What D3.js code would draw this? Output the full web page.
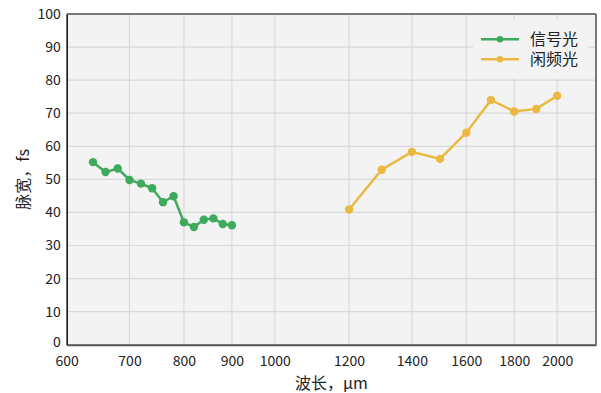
<!DOCTYPE html>
<html><head><meta charset="utf-8">
<script src="https://cdn.jsdelivr.net/npm/d3@7"></script>
<style>
body{margin:0;background:#fff;}
svg text{font-family:"Noto Sans CJK SC","Noto Sans",sans-serif;fill:#222;}
</style></head>
<body><svg id="c" width="601" height="393"></svg>
<script>
const signalX = [640,660,680,700,720,740,760,780,800,820,840,860,880,900];
const signalY = [55.2,52.2,53.3,49.8,48.7,47.3,43.1,44.9,37.0,35.6,37.8,38.2,36.5,36.1];
const idlerX = [1200,1300,1400,1500,1600,1700,1800,1900,2000];
const idlerY = [40.9,52.9,58.3,56.2,64.1,74.0,70.5,71.3,75.3];
const xTicks = [600,700,800,900,1000,1200,1400,1600,1800,2000];
const yTicks = [0,10,20,30,40,50,60,70,80,90,100];
const seriesNames = ["信号光","闲频光"];
const colors = ["#3daa5c","#ebb942"];

const svg = d3.select("#c");
const L=66.7, R=596, T=14, B=344.7;
const x = d3.scaleLog().domain([600,2200]).range([L,R]);
const y = d3.scaleLinear().domain([0,100]).range([B,T]);

svg.append("rect").attr("x",L).attr("y",T).attr("width",R-L).attr("height",B-T).attr("fill","#f2f3f2");
// grid
svg.append("g").selectAll("line").data(xTicks).join("line")
  .attr("x1",d=>x(d)).attr("x2",d=>x(d)).attr("y1",T).attr("y2",B)
  .attr("stroke","#d9d9d9").attr("stroke-width",1.2);
svg.append("g").selectAll("line").data(yTicks).join("line")
  .attr("x1",L).attr("x2",R).attr("y1",d=>y(d)).attr("y2",d=>y(d))
  .attr("stroke","#d9d9d9").attr("stroke-width",1.2);
// frame
svg.append("line").attr("x1",L).attr("x2",R).attr("y1",T).attr("y2",T).attr("stroke","#777").attr("stroke-width",2);
svg.append("line").attr("x1",R).attr("x2",R).attr("y1",T).attr("y2",B).attr("stroke","#777").attr("stroke-width",2);

// axes
const xAxis = svg.append("g").attr("transform",`translate(0,${B})`)
  .call(d3.axisBottom(x).tickValues(xTicks).tickFormat(d3.format("d")).tickSize(0).tickPadding(11));
xAxis.select(".domain").attr("stroke","#555").attr("stroke-width",2);
xAxis.selectAll("text").attr("font-size",14).attr("fill","#222");
const yAxis = svg.append("g").attr("transform",`translate(${L},0)`)
  .call(d3.axisLeft(y).tickValues(yTicks).tickSize(0).tickPadding(6));
yAxis.select(".domain").attr("stroke","#111").attr("stroke-width",1.5);
yAxis.selectAll("text").attr("font-size",14).attr("fill","#222");
yAxis.selectAll(".tick").filter(d=>d===0).select("text").attr("y",-3);

// labels
svg.append("text").attr("x",(L+R)/2).attr("y",389).attr("text-anchor","middle").attr("font-size",16).text("波长，μm");
svg.append("text").attr("transform",`translate(29,${(T+B)/2}) rotate(-90)`).attr("text-anchor","middle").attr("font-size",16).text("脉宽，fs");

// series
const series = [
  {xs:signalX, ys:signalY, c:colors[0]},
  {xs:idlerX, ys:idlerY, c:colors[1]}
];
const line = d3.line().x(d=>x(d[0])).y(d=>y(d[1]));
series.forEach(s=>{
  const pts = s.xs.map((v,i)=>[v,s.ys[i]]);
  svg.append("path").datum(pts).attr("d",line).attr("fill","none").attr("stroke",s.c).attr("stroke-width",2.5);
  svg.append("g").selectAll("circle").data(pts).join("circle")
    .attr("cx",d=>x(d[0])).attr("cy",d=>y(d[1])).attr("r",4.2).attr("fill",s.c);
});

// legend
svg.append("rect").attr("x",473).attr("y",20).attr("width",115).attr("height",58).attr("fill","#f2f3f2");
seriesNames.forEach((n,i)=>{
  const yy = 39.3 + i*20;
  svg.append("line").attr("x1",481).attr("x2",519).attr("y1",yy).attr("y2",yy).attr("stroke",colors[i]).attr("stroke-width",2.5);
  svg.append("circle").attr("cx",500).attr("cy",yy).attr("r",3.3).attr("fill",colors[i]);
  svg.append("text").attr("x",530).attr("y",yy).attr("dy","0.36em").attr("font-size",16).text(n);
});
</script></body></html>
